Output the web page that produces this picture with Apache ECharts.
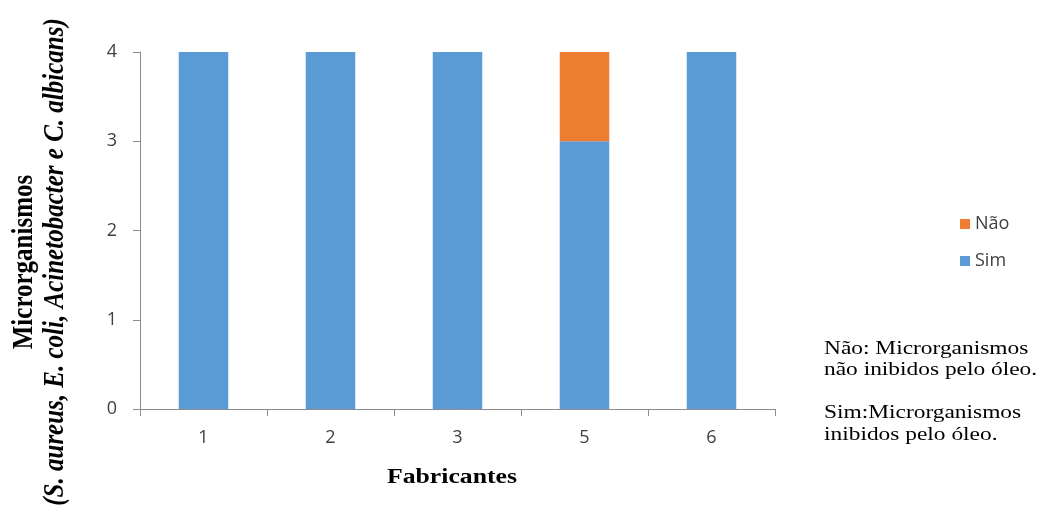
<!DOCTYPE html>
<html><head><meta charset="utf-8">
<script src="https://cdn.jsdelivr.net/npm/echarts@6/dist/echarts.min.js"></script>
<style>html,body{margin:0;padding:0;background:#fff}#c{width:1040px;height:514px}</style>
</head><body><div id="c"></div>
<script>
const categories = ['1', '2', '3', '5', '6'];
const simValues = [4, 4, 4, 3, 4];
const naoValues = [0, 0, 0, 1, 0];
const yTicks = [0, 1, 2, 3, 4];

const chart = echarts.init(document.getElementById('c'));
const sans = '"Open Sans", "Liberation Sans", sans-serif';
const serif = '"Liberation Serif", "DejaVu Serif", serif';
chart.setOption({
  animation: false,
  grid: { left: 140, right: 265, top: 52, bottom: 105 },
  legend: {
    orient: 'vertical', left: 955, top: 210,
    data: ['Não', 'Sim'],
    itemWidth: 10, itemHeight: 10, itemGap: 19,
    icon: 'rect',
    textStyle: { fontFamily: sans, fontSize: 18, color: '#404040' }
  },
  xAxis: {
    type: 'category', data: categories,
    axisLine: { lineStyle: { color: '#8c8c8c' } },
    axisTick: { show: true, alignWithLabel: false, length: 7, lineStyle: { color: '#8c8c8c' } },
    axisLabel: { fontFamily: sans, fontSize: 18, color: '#404040', margin: 20 }
  },
  yAxis: {
    type: 'value', min: yTicks[0], max: yTicks[yTicks.length - 1], interval: 1,
    axisLine: { show: true, lineStyle: { color: '#8c8c8c' } },
    axisTick: { show: true, length: 7, lineStyle: { color: '#8c8c8c' } },
    splitLine: { show: false },
    axisLabel: { fontFamily: sans, fontSize: 18, color: '#404040', margin: 23 }
  },
  graphic: [
    {
      type: 'text', x: 40, y: 262, rotation: Math.PI / 2, scaleY: 1.17,
      style: {
        text: '{a|Microrganismos}\n{b|(S. aureus, E. coli, Acinetobacter }{c|e}{b| C. albicans)}',
        align: 'center', verticalAlign: 'middle',
        rich: {
          a: { fontFamily: serif, fontWeight: 'bold', fontSize: 25, lineHeight: 26, fill: '#000', align: 'center' },
          b: { fontFamily: serif, fontWeight: 'bold', fontStyle: 'italic', fontSize: 25, lineHeight: 26, fill: '#000' },
          c: { fontFamily: serif, fontWeight: 'bold', fontStyle: 'italic', fontSize: 25, lineHeight: 26, fill: '#000' }
        }
      }
    },
    {
      type: 'text', x: 452, y: 477, scaleX: 1.17,
      style: {
        text: 'Fabricantes', align: 'center', verticalAlign: 'middle',
        fontFamily: serif, fontWeight: 'bold', fontSize: 22, fill: '#000'
      }
    },
    {
      type: 'text', x: 824, y: 338, scaleX: 1.2,
      style: {
        text: 'Não: Microrganismos\nnão inibidos pelo óleo.\n\nSim:Microrganismos\ninibidos pelo óleo.',
        align: 'left', verticalAlign: 'top',
        fontFamily: serif, fontSize: 19.5, lineHeight: 21.5, fill: '#000'
      }
    }
  ],
  series: [
    { name: 'Sim', type: 'bar', stack: 'a', data: simValues, barWidth: '39%', itemStyle: { color: '#5B9BD5' } },
    { name: 'Não', type: 'bar', stack: 'a', data: naoValues, barWidth: '39%', itemStyle: { color: '#ED7D31' } }
  ]
});
</script></body></html>
